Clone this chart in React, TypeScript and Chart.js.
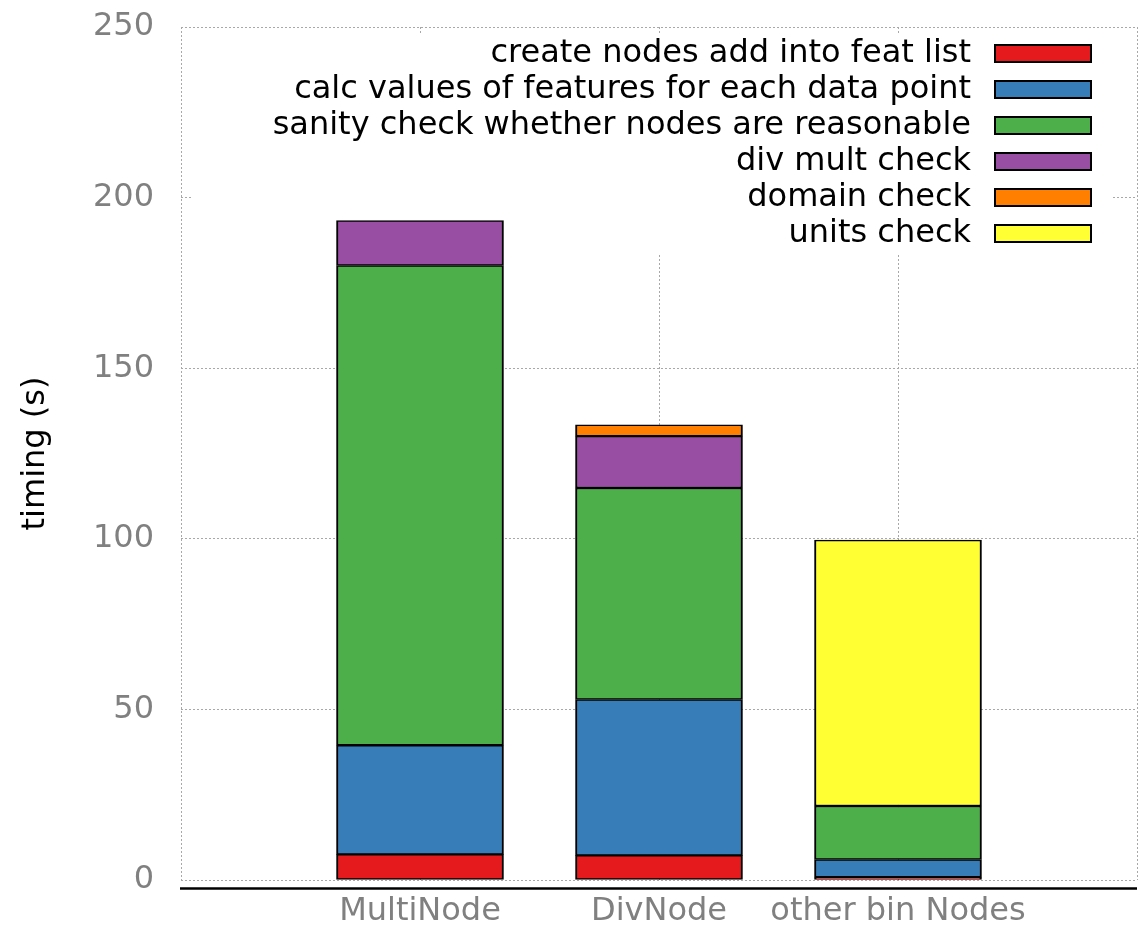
import { useEffect, useRef } from 'react';
import { Chart, registerables } from 'chart.js';

Chart.register(...registerables);

// Timing breakdown per node kind (seconds)
const categories = ['MultiNode', 'DivNode', 'other bin Nodes'];
const createNodes = [7.5, 7.2, 0.8];
const calcValues = [32.0, 45.7, 5.2];
const sanityCheck = [140.6, 62.0, 15.7];
const divMultCheck = [13.2, 15.2, 0];
const domainCheck = [0, 3.3, 0];
const unitsCheck = [0, 0, 77.9];

const seriesNames = [
  'create nodes add into feat list',
  'calc values of features for each data point',
  'sanity check whether nodes are reasonable',
  'div mult check',
  'domain check',
  'units check',
];
const seriesValues = [createNodes, calcValues, sanityCheck, divMultCheck, domainCheck, unitsCheck];
const seriesColors = ['#e41a1c', '#377eb8', '#4daf4a', '#984ea3', '#ff7f00', '#ffff33'];

const yMin = 0;
const yMax = 250;
const yStep = 50;

const FONT = 'DejaVu Sans';
const TICK_GREY = '#808080';
const GRID_GREY = '#a8a8a8';

// Category axis padded with an empty slot on each side so the three bars sit
// at 1/4, 1/2 and 3/4 of the plot width and the end gridlines frame the plot.
const paddedLabels = ['', ...categories, ''];
const pad = (vals: number[]) => [null, ...vals.map((v) => (v === 0 ? null : v)), null];

const noScalePadding = (scale: any) => {
  scale.paddingTop = 0;
  scale.paddingBottom = 0;
  scale.paddingLeft = 0;
  scale.paddingRight = 0;
};

const keyPlugin = {
  id: 'gnuKey',
  beforeDatasetsDraw(chart: any) {
    const { ctx, chartArea } = chart;
    ctx.save();
    ctx.fillStyle = '#ffffff';
    ctx.fillRect(chartArea.left + 10, chartArea.top + 7, chartArea.right - chartArea.left - 34, 219);
    ctx.restore();
  },
  afterDatasetsDraw(chart: any) {
    const { ctx, chartArea } = chart;
    ctx.save();
    ctx.font = `32px "${FONT}"`;
    ctx.textAlign = 'right';
    ctx.textBaseline = 'middle';
    const textRight = chartArea.right - 166;
    const boxLeft = chartArea.right - 142;
    const boxW = 96;
    const boxH = 17;
    seriesNames.forEach((name, i) => {
      const cy = chartArea.top + 26.5 + i * 36;
      ctx.fillStyle = '#000000';
      ctx.fillText(name, textRight, cy);
      ctx.fillStyle = seriesColors[i];
      ctx.fillRect(boxLeft, cy - boxH / 2, boxW, boxH);
      ctx.strokeStyle = '#000000';
      ctx.lineWidth = 2;
      ctx.strokeRect(boxLeft, cy - boxH / 2, boxW, boxH);
    });
    ctx.restore();
  },
  afterDraw(chart: any) {
    const { ctx, chartArea } = chart;
    ctx.save();
    ctx.strokeStyle = '#000000';
    ctx.lineWidth = 2.5;
    ctx.beginPath();
    ctx.moveTo(chartArea.left - 1, chartArea.bottom + 8.5);
    ctx.lineTo(chartArea.right, chartArea.bottom + 8.5);
    ctx.stroke();
    ctx.restore();
  },
};

export default function App() {
  const canvasRef = useRef<HTMLCanvasElement | null>(null);

  useEffect(() => {
    const canvas = canvasRef.current;
    if (!canvas) return;
    const chart = new Chart(canvas, {
      type: 'bar',
      data: {
        labels: paddedLabels,
        datasets: seriesNames.map((name, i) => ({
          label: name,
          data: pad(seriesValues[i]),
          backgroundColor: seriesColors[i],
          borderColor: '#000000',
          borderWidth: { top: 1.5, bottom: 1.5, left: 2, right: 2 },
          borderSkipped: false,
          barThickness: 167,
        })),
      },
      options: {
        animation: false,
        responsive: false,
        devicePixelRatio: 1,
        layout: { padding: { top: 27, right: 3, left: 0, bottom: 0 } },
        plugins: {
          legend: { display: false },
          tooltip: { enabled: false },
          title: { display: false },
        },
        scales: {
          x: {
            type: 'category',
            stacked: true,
            offset: false,
            grid: { offset: false, color: GRID_GREY, lineWidth: 1, drawTicks: false },
            border: { display: false, dash: [2, 2] },
            ticks: {
              color: TICK_GREY,
              font: { family: FONT, size: 32 },
              padding: 12,
              autoSkip: false,
              maxRotation: 0,
            },
            afterFit: (scale: any) => {
              scale.height = 57;
              noScalePadding(scale);
            },
          },
          y: {
            stacked: true,
            min: yMin,
            max: yMax,
            grid: { color: GRID_GREY, lineWidth: 1, drawTicks: false },
            border: { display: false, dash: [2, 2] },
            ticks: {
              stepSize: yStep,
              color: TICK_GREY,
              font: { family: FONT, size: 32 },
              padding: 27,
            },
            title: {
              display: true,
              text: 'timing (s)',
              color: '#000000',
              font: { family: FONT, size: 32 },
              padding: { top: 16, bottom: 0 },
            },
            afterFit: (scale: any) => {
              scale.width = 181;
              noScalePadding(scale);
            },
          },
        },
      },
      plugins: [keyPlugin],
    });
    return () => chart.destroy();
  }, []);

  return (
    <div style={{ position: 'absolute', left: 0, top: 0, width: 1140, height: 937, background: '#ffffff' }}>
      <canvas ref={canvasRef} width={1140} height={937} />
    </div>
  );
}
